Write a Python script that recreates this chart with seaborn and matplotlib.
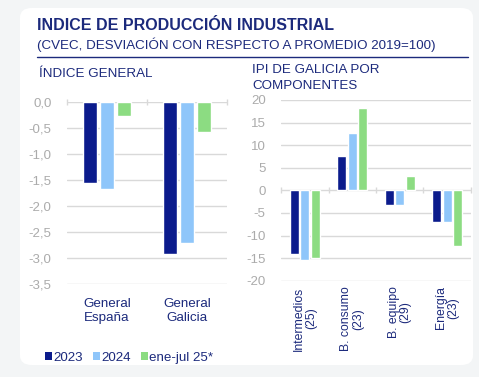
import matplotlib
matplotlib.use("Agg")
import matplotlib.pyplot as plt
import seaborn as sns
import pandas as pd
from matplotlib.patches import FancyBboxPatch, Patch
from matplotlib.lines import Line2D
from matplotlib.ticker import FuncFormatter

# ---------------- data ----------------
series = ["2023", "2024", "ene-jul 25*"]
left_cats = ["General\nEspaña", "General\nGalicia"]
left_2023 = [-1.56, -2.92]
left_2024 = [-1.68, -2.71]
left_2025 = [-0.28, -0.58]

right_cats = ["Intermedios\n(25)", "B. consumo\n(23)", "B. equipo\n(29)", "Energía\n(23)"]
right_2023 = [-14.2, 7.7, -3.3, -6.9]
right_2024 = [-15.5, 12.7, -3.3, -6.9]
right_2025 = [-14.9, 18.2, 3.2, -12.3]

left_ticks = [0.0, -0.5, -1.0, -1.5, -2.0, -2.5, -3.0, -3.5]
right_ticks = [20, 15, 10, 5, 0, -5, -10, -15, -20]

colors = ["#0b1b8c", "#8fc6fa", "#8cdc82"]
navy = "#1c2a7c"
gray_txt = "#ababab"
grid_c = "#d9d9d9"

def long_df(cats, a, b, c):
    rows = []
    for s, vals in zip(series, [a, b, c]):
        for cat, v in zip(cats, vals):
            rows.append({"cat": cat, "serie": s, "val": v})
    return pd.DataFrame(rows)

df_left = long_df(left_cats, left_2023, left_2024, left_2025)
df_right = long_df(right_cats, right_2023, right_2024, right_2025)

# ---------------- figure ----------------
sns.set_theme(style="white")
plt.rcParams["font.family"] = ["Liberation Sans", "DejaVu Sans"]

W, H = 479, 377
fig = plt.figure(figsize=(W / 100, H / 100), dpi=100)
fig.patch.set_facecolor("#f3f5f6")

def fx(px):
    return px / W

def fy(py):
    return 1 - py / H

card = FancyBboxPatch((fx(20), fy(365)), fx(453), (365 - 8) / H,
                      boxstyle="round,pad=0,rounding_size=0.025",
                      transform=fig.transFigure, facecolor="white",
                      edgecolor="none", zorder=-5)
fig.patches.append(card)

fig.text(fx(37), fy(25), "INDICE DE PRODUCCIÓN INDUSTRIAL", fontsize=11.5,
         fontweight="bold", color=navy, va="center", ha="left")
fig.text(fx(37), fy(45), "(CVEC, DESVIACIÓN CON RESPECTO A PROMEDIO 2019=100)",
         fontsize=9.6, color=navy, va="center", ha="left")
fig.add_artist(Line2D([fx(37), fx(468)], [fy(57), fy(57)],
                      transform=fig.transFigure, color=navy, lw=1.0))
fig.text(fx(39), fy(74), "ÍNDICE GENERAL", fontsize=9.6, color=navy,
         va="center", ha="left")
fig.text(fx(252), fy(78), "IPI DE GALICIA POR\nCOMPONENTES", fontsize=9.6,
         color=navy, va="center", ha="left", linespacing=1.4)

def style_axis(ax, ticks, fmt, zero_loc, ncat):
    ax.set_facecolor("none")
    for sp in ax.spines.values():
        sp.set_visible(False)
    ax.set_yticks(ticks)
    ax.yaxis.set_major_formatter(FuncFormatter(fmt))
    ax.tick_params(axis="y", length=0, labelsize=9.5, labelcolor=gray_txt, pad=11)
    ax.grid(axis="y", color=grid_c, lw=1.0)
    ax.set_axisbelow(True)
    ax.set_xlabel("")
    ax.set_ylabel("")
    ax.set_xlim(-0.5, ncat - 0.5)
    sec = ax.secondary_xaxis(zero_loc)
    sec.set_xticks([i - 0.5 for i in range(ncat + 1)])
    sec.set_xticklabels([])
    sec.tick_params(length=4, color=grid_c, direction="inout", width=1)
    sec.spines["bottom"].set_visible(False)
    sec.spines["top"].set_visible(False)

# left axes
axL = fig.add_axes([fx(67), fy(284.3), fx(160), (284.3 - 101.7) / H])
sns.barplot(data=df_left, x="cat", y="val", hue="serie", palette=colors,
            width=0.64, gap=0.15, errorbar=None, legend=False, ax=axL,
            saturation=1, zorder=3)
axL.set_ylim(-3.5, 0)
style_axis(axL, left_ticks, lambda v, p: f"{v:.1f}".replace(".", ","), 1.0, 2)
axL.tick_params(axis="x", length=0, labelsize=9.6, labelcolor=navy, pad=10)

# right axes
axR = fig.add_axes([fx(281), fy(280.7), fx(190), (280.7 - 100) / H])
sns.barplot(data=df_right, x="cat", y="val", hue="serie", palette=colors,
            width=0.66, gap=0.15, errorbar=None, legend=False, ax=axR,
            saturation=1, zorder=3)
axR.set_ylim(-20, 20)
style_axis(axR, right_ticks, lambda v, p: f"{int(v)}", 0.5, 4)
axR.tick_params(axis="x", length=0, labelsize=8.8, labelcolor=navy, pad=4,
                labelrotation=90)
for lab in axR.get_xticklabels():
    lab.set_va("top")
    lab.set_ha("center")
    lab.set_multialignment("center")
    lab.set_linespacing(1.0)

handles = [Patch(facecolor=c, edgecolor="none", label=s) for c, s in zip(colors, series)]
fig.legend(handles=handles, loc="center left", bbox_to_anchor=(fx(45), fy(358)),
           ncol=3, frameon=False, fontsize=9.6, handlelength=0.5,
           handleheight=0.5, handletextpad=0.1, columnspacing=0.8,
           labelcolor=navy, borderaxespad=0, borderpad=0)

fig.savefig("out.png", dpi=100)
